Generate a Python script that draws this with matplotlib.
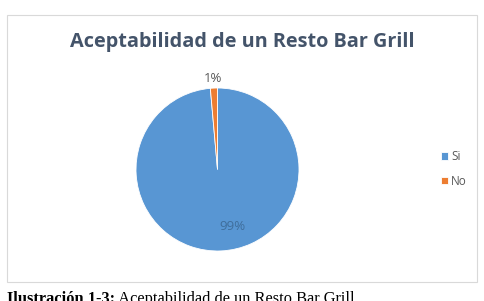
import matplotlib
matplotlib.use('Agg')
import matplotlib.pyplot as plt
from matplotlib.patches import Rectangle

labels = ['Si', 'No']
values = [98.6, 1.4]
colors = ['#5896D3', '#ED7D31']
title = 'Aceptabilidad de un Resto Bar Grill'
caption_bold = 'Ilustración 1-3:'
caption_text = ' Aceptabilidad de un Resto Bar Grill'

W, H = 484, 301
fig = plt.figure(figsize=(W/100., H/100.), dpi=100)

# chart frame (behind the pie)
fig.patches.append(Rectangle((7./W, 1-282./H), 470./W, 267./H, transform=fig.transFigure,
                             facecolor='white', edgecolor='#D9D9D9', lw=0.8, zorder=-10))

fig.text(242./W, 1-42./H, title, ha='center', va='center', fontsize=14.3,
         fontweight='bold', color='#44546A', family='Open Sans')

# pie
cx, cy, r = 217.5, 169.5, 81.5
ax = fig.add_axes([(cx-r)/W, 1-(cy+r)/H, 2*r/W, 2*r/H])
wedges, _ = ax.pie(values, colors=colors, startangle=90, counterclock=False,
                   wedgeprops=dict(linewidth=0.6, edgecolor='white'))
ax.set_xlim(-1, 1)
ax.set_ylim(-1, 1)
ax.set_aspect('equal')

pcts = ['%d%%' % round(v) for v in values]
ax.text(0.18, -0.70, pcts[0], ha='center', va='center', fontsize=9.5, color='#3F6E9C', family='Open Sans')
ax.text(-0.05, 1.12, pcts[1], ha='center', va='center', fontsize=9.5, color='#595959', family='Open Sans')

leg = fig.legend(wedges, labels, loc='center left', bbox_to_anchor=(430./W, 1-169./H),
                 frameon=False, handlelength=0.6, handleheight=0.6,
                 handletextpad=0.3, labelspacing=1.0, prop={'family': 'Open Sans', 'size': 8.5})
for t in leg.get_texts():
    t.set_color('#595959')

# caption below the chart (cut at the bottom, like the source)
yb = 1-303./H
t1 = fig.text(7./W, yb, caption_bold, ha='left', va='baseline', fontsize=11.8,
              fontweight='bold', family='Liberation Serif', color='black')
fig.canvas.draw()
bb = t1.get_window_extent()
fig.text(bb.x1/W, yb, caption_text, ha='left', va='baseline', fontsize=11.8,
         family='Liberation Serif', color='black')

fig.savefig('out.png', dpi=100)
